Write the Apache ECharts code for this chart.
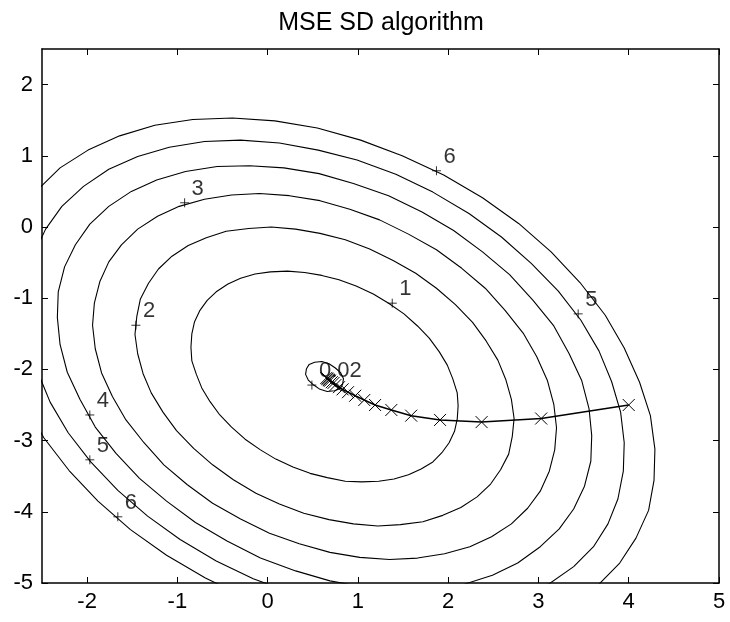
<!DOCTYPE html>
<html>
<head>
<meta charset="utf-8">
<script src="https://cdn.jsdelivr.net/npm/echarts@6/dist/echarts.min.js"></script>
<style>
  html, body { margin: 0; padding: 0; background: #fff; }
  #chart { width: 730px; height: 622px; }
</style>
</head>
<body>
<div id="chart"></div>
<script>
  // axis ticks
  var X_TICKS = [-2, -1, 0, 1, 2, 3, 4, 5];
  var Y_TICKS = [-5, -4, -3, -2, -1, 0, 1, 2];

  // contour lines of the MSE surface (closed loops)
  var contour002 = [[0.75, -1.98], [0.81, -2.05], [0.84, -2.13], [0.83, -2.21], [0.80, -2.27], [0.74, -2.30], [0.66, -2.31], [0.58, -2.28], [0.51, -2.22], [0.45, -2.15], [0.42, -2.07], [0.43, -1.99], [0.46, -1.93], [0.52, -1.90], [0.60, -1.89], [0.68, -1.92], [0.75, -1.98]];
  var contour1 = [[1.51, -1.22], [1.66, -1.39], [1.79, -1.56], [1.90, -1.75], [1.99, -1.94], [2.05, -2.13], [2.10, -2.33], [2.11, -2.51], [2.10, -2.70], [2.07, -2.87], [2.01, -3.03], [1.93, -3.17], [1.83, -3.30],
    [1.70, -3.40], [1.56, -3.48], [1.40, -3.54], [1.23, -3.57], [1.04, -3.58], [0.86, -3.57], [0.66, -3.52], [0.47, -3.46], [0.28, -3.37], [0.09, -3.26], [-0.08, -3.13],
    [-0.25, -2.98], [-0.40, -2.81], [-0.53, -2.64], [-0.64, -2.45], [-0.73, -2.26], [-0.79, -2.07], [-0.84, -1.88], [-0.85, -1.69], [-0.84, -1.50], [-0.81, -1.33], [-0.75, -1.17], [-0.67, -1.03],
    [-0.57, -0.91], [-0.44, -0.80], [-0.30, -0.72], [-0.14, -0.66], [0.03, -0.63], [0.22, -0.62], [0.41, -0.64], [0.60, -0.68], [0.79, -0.74], [0.98, -0.83], [1.17, -0.94], [1.34, -1.07], [1.51, -1.22]];
  var contour2 = [[1.87, -0.86], [2.08, -1.09], [2.27, -1.34], [2.42, -1.60], [2.55, -1.87], [2.64, -2.15], [2.70, -2.42], [2.73, -2.69], [2.71, -2.94], [2.67, -3.19], [2.58, -3.41], [2.47, -3.61], [2.32, -3.79],
    [2.14, -3.94], [1.94, -4.05], [1.72, -4.14], [1.47, -4.18], [1.22, -4.20], [0.95, -4.17], [0.68, -4.11], [0.40, -4.02], [0.13, -3.89], [-0.13, -3.74], [-0.38, -3.55],
    [-0.61, -3.34], [-0.82, -3.11], [-1.01, -2.86], [-1.16, -2.60], [-1.29, -2.33], [-1.38, -2.06], [-1.44, -1.78], [-1.47, -1.51], [-1.45, -1.26], [-1.41, -1.01], [-1.32, -0.79], [-1.21, -0.59],
    [-1.06, -0.41], [-0.88, -0.26], [-0.68, -0.15], [-0.46, -0.06], [-0.21, -0.02], [0.04, 0.00], [0.31, -0.03], [0.58, -0.09], [0.86, -0.18], [1.13, -0.31], [1.39, -0.47], [1.64, -0.65], [1.87, -0.86]];
  var contour3 = [[2.15, -0.58], [2.41, -0.86], [2.63, -1.17], [2.83, -1.49], [2.98, -1.82], [3.10, -2.16], [3.17, -2.49], [3.20, -2.82], [3.18, -3.13], [3.12, -3.43], [3.02, -3.71], [2.88, -3.95], [2.70, -4.17],
    [2.48, -4.35], [2.24, -4.49], [1.96, -4.59], [1.66, -4.65], [1.35, -4.67], [1.02, -4.64], [0.69, -4.57], [0.35, -4.45], [0.02, -4.30], [-0.30, -4.10], [-0.61, -3.88],
    [-0.89, -3.62], [-1.15, -3.34], [-1.37, -3.03], [-1.57, -2.71], [-1.72, -2.38], [-1.84, -2.05], [-1.91, -1.71], [-1.94, -1.38], [-1.92, -1.07], [-1.86, -0.77], [-1.76, -0.49], [-1.62, -0.25],
    [-1.44, -0.03], [-1.22, 0.15], [-0.98, 0.29], [-0.70, 0.39], [-0.40, 0.45], [-0.09, 0.47], [0.24, 0.44], [0.58, 0.37], [0.91, 0.25], [1.24, 0.10], [1.56, -0.10], [1.87, -0.32], [2.15, -0.58]];
  var contour4 = [[2.38, -0.35], [2.68, -0.67], [2.94, -1.03], [3.17, -1.39], [3.34, -1.78], [3.48, -2.16], [3.56, -2.55], [3.59, -2.93], [3.58, -3.29], [3.51, -3.64], [3.39, -3.96], [3.23, -4.24], [3.02, -4.49],
    [2.77, -4.72], [2.49, -4.89], [2.17, -5.02], [1.82, -5.08], [1.46, -5.09], [1.08, -5.06], [0.69, -4.97], [0.31, -4.83], [-0.08, -4.65], [-0.45, -4.41], [-0.80, -4.15],
    [-1.12, -3.85], [-1.42, -3.53], [-1.68, -3.18], [-1.91, -2.81], [-2.08, -2.42], [-2.22, -2.04], [-2.30, -1.65], [-2.33, -1.27], [-2.32, -0.91], [-2.25, -0.56], [-2.13, -0.25], [-1.97, 0.04],
    [-1.76, 0.29], [-1.51, 0.50], [-1.23, 0.66], [-0.91, 0.78], [-0.56, 0.85], [-0.20, 0.86], [0.18, 0.83], [0.57, 0.75], [0.95, 0.61], [1.34, 0.44], [1.71, 0.21], [2.06, -0.05], [2.38, -0.35]];
  var contour5 = [[2.59, -0.14], [2.92, -0.51], [3.22, -0.90], [3.47, -1.31], [3.67, -1.74], [3.81, -2.17], [3.91, -2.60], [3.95, -3.03], [3.94, -3.43], [3.88, -3.82], [3.77, -4.17], [3.61, -4.49], [3.39, -4.77],
    [3.12, -5.01], [2.78, -5.19], [2.35, -5.32], [1.96, -5.40], [1.56, -5.42], [1.13, -5.38], [0.70, -5.28], [0.27, -5.14], [-0.16, -4.94], [-0.57, -4.69], [-0.97, -4.39],
    [-1.33, -4.06], [-1.66, -3.70], [-1.96, -3.30], [-2.21, -2.89], [-2.41, -2.46], [-2.55, -2.03], [-2.65, -1.60], [-2.69, -1.17], [-2.67, -0.77], [-2.59, -0.38], [-2.46, -0.03], [-2.28, 0.29],
    [-2.04, 0.57], [-1.76, 0.81], [-1.44, 0.99], [-1.09, 1.12], [-0.70, 1.20], [-0.30, 1.22], [0.13, 1.18], [0.56, 1.08], [0.99, 0.94], [1.42, 0.74], [1.83, 0.49], [2.23, 0.19], [2.59, -0.14]];
  var contour6 = [[2.78, 0.05], [3.14, -0.35], [3.46, -0.78], [3.74, -1.24], [3.95, -1.70], [4.12, -2.18], [4.24, -2.65], [4.29, -3.12], [4.28, -3.56], [4.22, -3.98], [4.08, -4.37], [3.90, -4.72], [3.66, -5.03],
    [3.25, -5.28], [2.90, -5.48], [2.51, -5.63], [2.09, -5.71], [1.65, -5.73], [1.18, -5.69], [0.71, -5.59], [0.23, -5.42], [-0.23, -5.21], [-0.69, -4.93], [-1.12, -4.61],
    [-1.52, -4.25], [-1.88, -3.85], [-2.20, -3.42], [-2.48, -2.96], [-2.69, -2.50], [-2.86, -2.02], [-2.96, -1.55], [-3.00, -1.09], [-2.98, -0.64], [-2.90, -0.22], [-2.75, 0.17], [-2.55, 0.52],
    [-2.30, 0.83], [-1.99, 1.08], [-1.64, 1.28], [-1.25, 1.43], [-0.83, 1.51], [-0.39, 1.53], [0.08, 1.49], [0.55, 1.39], [1.03, 1.22], [1.49, 1.00], [1.95, 0.73], [2.38, 0.41], [2.78, 0.05]];

  // clabel markers: x, y, text
  var contourLabels = [
    [0.49, -2.22, "0.02"],
    [1.38, -1.07, "1"],
    [-1.46, -1.38, "2"],
    [-0.92, 0.34, "3"],
    [-1.97, -2.64, "4"],
    [-1.97, -3.27, "5"],
    [3.44, -1.22, "5"],
    [-1.66, -4.07, "6"],
    [1.87, 0.79, "6"]
  ];

  // steepest descent weight trajectory
  var sdPath = [[4.00, -2.50], [3.03, -2.69], [2.37, -2.74], [1.91, -2.71], [1.59, -2.65], [1.37, -2.57], [1.19, -2.50], [1.07, -2.43], [0.97, -2.37], [0.89, -2.32], [0.83, -2.28], [0.79, -2.25], [0.75, -2.22], [0.73, -2.19], [0.71, -2.18], [0.69, -2.16], [0.68, -2.15], [0.67, -2.14], [0.66, -2.13], [0.65, -2.12]];

  var FONT = "'Liberation Sans', Arial, Helvetica, sans-serif";
  var X_MARK = "path://M0,0L10,10M10,0L0,10";
  var PLUS_MARK = "path://M5,0L5,10M0,5L10,5";

  function contourSeries(data) {
    return {
      type: "line",
      data: data,
      smooth: false,
      showSymbol: false,
      silent: true,
      clip: true,
      lineStyle: { color: "#000", width: 1.1 }
    };
  }

  function frameAxis(pos, isX, withLabels) {
    return {
      type: "value",
      position: pos,
      min: isX ? -2.5 : -5,
      max: isX ? 5 : 2.5,
      splitLine: { show: false },
      axisLine: { show: true, onZero: false, lineStyle: { color: "#000", width: 1.5 } },
      axisTick: {
        show: true,
        inside: true,
        length: 6,
        customValues: isX ? X_TICKS : Y_TICKS,
        lineStyle: { color: "#000", width: 1 }
      },
      axisLabel: {
        show: withLabels,
        customValues: isX ? X_TICKS : Y_TICKS,
        color: "#000",
        fontFamily: FONT,
        fontSize: 22,
        margin: isX ? 8 : 9
      }
    };
  }

  var chart = echarts.init(document.getElementById("chart"), null, { renderer: "canvas" });

  var series = [contour002, contour1, contour2, contour3, contour4, contour5, contour6].map(contourSeries);

  series.push({
    type: "line",
    data: sdPath,
    symbol: X_MARK,
    symbolSize: 12,
    showSymbol: true,
    showAllSymbol: true,
    itemStyle: { color: "#000", borderColor: "#000", borderWidth: 1 },
    lineStyle: { color: "#000", width: 1.5 },
    z: 5
  });

  series.push({
    type: "scatter",
    data: contourLabels,
    encode: { x: 0, y: 1 },
    symbol: PLUS_MARK,
    symbolSize: 9,
    itemStyle: { color: "#000", borderColor: "#000", borderWidth: 1 },
    label: {
      show: true,
      position: "right",
      distance: 2,
      offset: [0, -14],
      color: "#000",
      fontFamily: FONT,
      fontSize: 22,
      formatter: function (p) { return p.value[2]; }
    },
    z: 6
  });

  chart.setOption({
    animation: false,
    backgroundColor: "#fff",
    title: {
      text: "MSE SD algorithm",
      left: 376,
      top: 6,
      textAlign: "center",
      textStyle: { color: "#000", fontWeight: "normal", fontFamily: FONT, fontSize: 25 }
    },
    grid: { left: 42, right: 11, top: 49, bottom: 39, containLabel: false },
    xAxis: [frameAxis("bottom", true, true), frameAxis("top", true, false)],
    yAxis: [frameAxis("left", false, true), frameAxis("right", false, false)],
    series: series
  });
</script>
</body>
</html>
